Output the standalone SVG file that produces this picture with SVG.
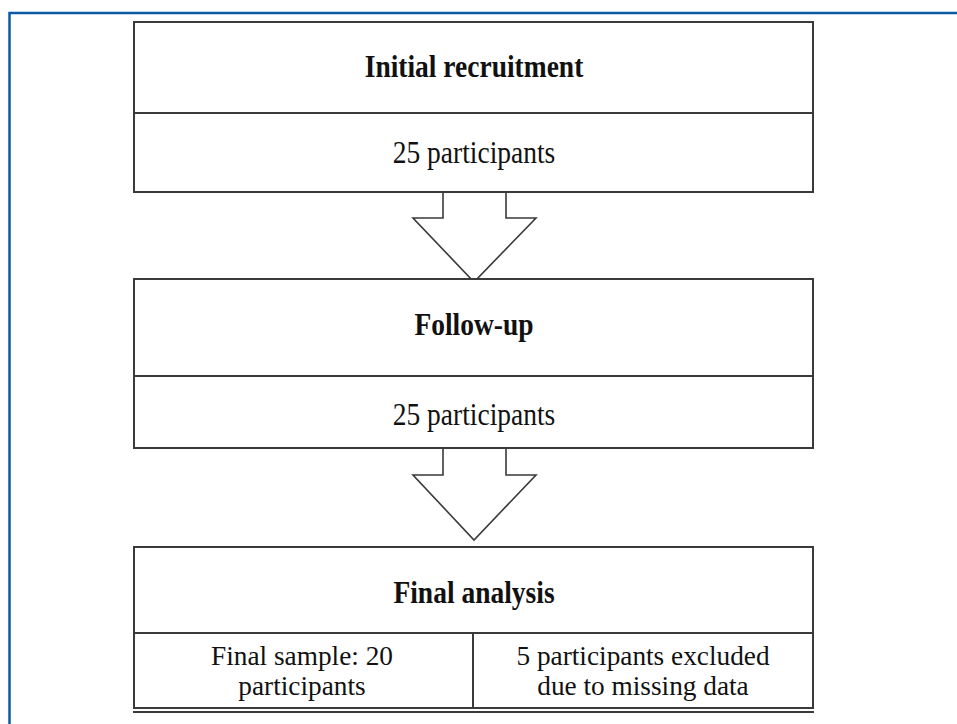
<svg xmlns="http://www.w3.org/2000/svg" width="957" height="724" viewBox="0 0 957 724">
<style>
.frame{fill:none;stroke:#0b5aa2;stroke-width:2.5}
.box{fill:#fff;stroke:#3a3a3a;stroke-width:2}
.ln{fill:none;stroke:#3a3a3a;stroke-width:2}
.arrow{fill:#fff;stroke:#3a3a3a;stroke-width:1.6;stroke-linejoin:miter}
text{font-family:"Liberation Serif","Times New Roman","DejaVu Serif",serif;font-size:27.5px;fill:#111;text-anchor:middle}
.b{font-weight:bold}
.s{font-size:26px}
</style>
<rect width="957" height="724" fill="#fff"/>
<path class="frame" d="M9.5 740 V13 H970"/>
<g id="connectors">
<path class="arrow" d="M443 192 V218 H413 L474 282 L536 218 H506 V192"/>
<path class="arrow" d="M443 448 V475 H413 L474 540 L536 475 H506 V448"/>
</g>
<g id="initial">
<rect class="box" x="134" y="22" width="679" height="170"/>
<line class="ln" x1="134" y1="113" x2="813" y2="113"/>
<text class="b" transform="translate(474 77) scale(1 1.12)">Initial recruitment</text>
<text transform="translate(474 163) scale(1 1.12)">25 participants</text>
</g>
<g id="followup">
<rect class="box" x="134" y="279" width="679" height="169"/>
<line class="ln" x1="134" y1="376" x2="813" y2="376"/>
<text class="b" transform="translate(474 335) scale(1 1.12)">Follow-up</text>
<text transform="translate(474 425) scale(1 1.12)">25 participants</text>
</g>
<g id="final">
<rect class="box" x="134" y="547" width="679" height="161"/>
<line class="ln" x1="134" y1="633" x2="813" y2="633"/>
<line class="ln" x1="473" y1="633" x2="473" y2="708"/>
<line class="ln" x1="133" y1="712" x2="814" y2="712"/>
<text class="b" transform="translate(474 603) scale(1 1.12)">Final analysis</text>
<text class="s" transform="translate(302 665) scale(1.05 1.04)">Final sample: 20</text>
<text class="s" transform="translate(302 695) scale(1.05 1.04)">participants</text>
<text class="s" transform="translate(643 665) scale(1.05 1.04)">5 participants excluded</text>
<text class="s" transform="translate(643 695) scale(1.05 1.04)">due to missing data</text>
</g>
</svg>
